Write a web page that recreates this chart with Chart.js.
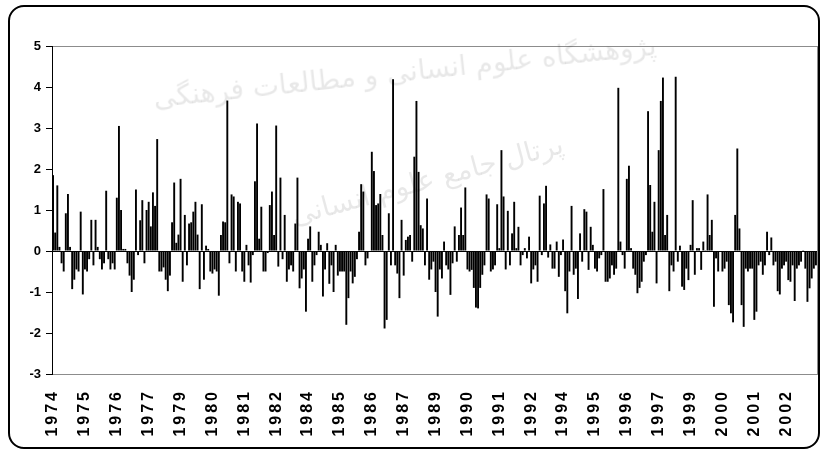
<!DOCTYPE html>
<html>
<head>
<meta charset="utf-8">
<script src="https://cdn.jsdelivr.net/npm/chart.js@4.4.0/dist/chart.umd.min.js"></script>
<style>
    html, body { margin: 0; padding: 0; background: #fff; }
    #contenedor { position: relative; width: 822px; height: 452px; overflow: hidden; }
    #marco { position: absolute; left: 8px; top: 5px; width: 808px; height: 440px; border: 2px solid #000; border-radius: 16px; pointer-events: none; }
    .marca { position: absolute; font-family: "DejaVu Sans", sans-serif; color: rgba(0, 0, 0, 0.09); white-space: nowrap; direction: rtl; pointer-events: none; transform-origin: center; }
    #marca1 { left: 152px; top: 55px; font-size: 28px; transform: rotate(-6deg); }
    #marca2 { left: 287px; top: 163px; font-size: 28px; transform: rotate(-15deg); }
</style>
</head>
<body>
<div id="contenedor">
    <canvas id="grafica" width="822" height="452"></canvas>
    <div class="marca" id="marca1">پژوهشگاه علوم انسانی و مطالعات فرهنگی</div>
    <div class="marca" id="marca2">پرتال جامع علوم انسانی</div>
    <div id="marco"></div>
</div>
<script>
// Años del eje x (cada año tiene 12 meses)
const years = [1974, 1975, 1976, 1977, 1978, 1979, 1980, 1981, 1982, 1983,
               1984, 1985, 1986, 1987, 1988, 1989, 1990, 1991, 1992, 1993,
               1994, 1995, 1996, 1997, 1998, 1999, 2000, 2001, 2002, 2003];

// Se muestra una etiqueta cada 15 meses
const labelStep = 15;

// Valores mensuales
const values1974to1983 = [
    1.85, 0.45, 1.6, 0.1, -0.3, -0.5, 0.92, 1.39, 0.1, -0.93, -0.7, -0.45,
    -0.5, 0.96, -1.06, -0.45, -0.5, -0.2, 0.76, -0.35, 0.76, 0.1, -0.2, -0.45,
    -0.3, 1.47, -0.2, -0.45, -0.3, -0.45, 1.3, 3.05, 1.0, 0.05, 0.05, -0.3,
    -0.6, -1.0, -0.7, 1.5, -0.1, 0.75, 1.24, -0.3, 1.0, 1.2, 0.6, 1.43,
    1.1, 2.73, -0.5, -0.5, -0.4, -0.7, -0.98, -0.6, 0.7, 1.67, 0.2, 0.4,
    1.76, -0.75, 0.88, -0.35, 0.67, 0.7, 0.96, 1.2, 0.4, -0.93, 1.14, -0.7,
    0.13, 0.05, -0.5, -0.55, -0.45, -0.5, -1.09, 0.39, 0.72, 0.7, 3.67, -0.3,
    1.38, 1.33, -0.5, 1.2, 1.16, -0.5, -0.75, 0.15, -0.35, -0.77, -0.1, 1.7,
    3.11, 0.3, 1.08, -0.5, -0.5, -0.05, 1.12, 1.45, 0.39, 3.06, -0.38, 1.79,
    -0.2, 0.88, -0.75, -0.45, -0.35, -0.5, 0.67, 1.79, -0.91, -0.67, -0.45, -1.48
];
const values1984to1993 = [
    0.3, 0.6, -0.75, -0.35, -0.1, 0.47, 0.15, -1.11, -0.45, 0.19, -0.8, -0.35,
    -1.0, 0.15, -0.6, -0.5, -0.5, -0.5, -1.8, -1.15, -0.5, -0.79, -0.63, -0.2,
    0.47, 1.63, 1.45, -0.35, -0.18, -0.02, 2.42, 1.95, 1.12, 1.16, 1.39, 0.39,
    -1.89, -1.68, 0.92, -0.35, 4.19, -0.35, -0.55, -1.15, 0.76, -0.6, 0.27, 0.35,
    0.39, -0.26, 2.3, 3.66, 1.93, 0.63, 0.55, -0.35, 1.28, -0.7, -0.45, -0.26,
    -1.0, -1.6, -0.45, -0.67, 0.23, -0.35, -0.45, -1.07, -0.3, 0.6, -0.26, 0.39,
    1.06, 0.39, 1.55, -0.45, -0.5, -0.46, -0.9, -1.38, -1.4, -0.9, -0.58, -0.35,
    1.38, 1.28, -0.5, -0.45, -0.35, 1.14, 0.07, 2.46, 1.33, -0.45, 0.98, -0.35,
    0.43, 1.2, 0.07, 0.59, -0.35, -0.1, 0.07, -0.18, 0.35, -0.79, -0.45, -0.35,
    -0.75, 1.35, -0.1, 1.16, 1.59, -0.16, 0.16, -0.43, -0.43, 0.23, -0.63, -0.1
];
const values1994to2003 = [
    0.28, -0.98, -1.52, -0.5, 1.1, -0.58, -0.43, -1.17, 0.43, -0.26, 1.02, 0.96,
    -0.46, 0.59, 0.15, -0.43, -0.5, -0.18, -0.1, 1.51, -0.75, -0.75, -0.67, -0.35,
    -0.58, -0.43, 3.98, 0.23, -0.1, -0.43, 1.76, 2.08, 0.07, -0.43, -0.58, -1.03,
    -0.9, -0.75, -0.26, -0.1, 3.41, 1.61, 0.47, 1.2, -0.79, 2.46, 3.66, 4.23,
    0.39, 0.88, -0.98, -0.35, -0.5, 4.25, -0.26, 0.13, -0.87, -0.95, -0.43, -0.71,
    0.15, 1.24, -0.58, 0.07, 0.07, -0.46, 0.23, 0.02, 1.38, 0.39, 0.76, -1.36,
    -0.18, -0.5, -0.02, -0.5, -0.43, -0.26, -1.32, -1.52, -1.74, 0.88, 2.5, 0.55,
    -1.32, -1.85, -0.43, -0.5, -0.43, -0.43, -1.68, -1.48, -0.35, -0.26, -0.58, -0.35,
    0.47, -0.1, 0.33, -0.35, -0.26, -0.98, -1.06, -0.43, -0.35, -0.26, -0.71, -0.75,
    -0.35, -1.22, -0.43, -0.35, -0.26, 0.02, -0.43, -1.24, -0.91, -0.67, -0.43, -0.35
];

// Rango del eje y
const yMin = -3;
const yMax = 5;

// Una categoría por mes, etiquetada con su año
const categories = years.flatMap(y => Array(12).fill(String(y)));
const values = values1974to1983.concat(values1984to1993, values1994to2003);

// Espaciado de letras solo para las etiquetas del eje x (las del eje y se dibujan después de las barras)
const labelSpacing = {
    id: 'labelSpacing',
    beforeDraw(chart) { chart.ctx.letterSpacing = '3px'; },
    beforeDatasetsDraw(chart) { chart.ctx.letterSpacing = '0px'; }
};

Chart.defaults.font.family = '"Liberation Sans", Arial, sans-serif';
Chart.defaults.font.weight = 'bold';
Chart.defaults.color = '#000';

const gris = '#8c8c8c';

new Chart(document.getElementById('grafica').getContext('2d'), {
    type: 'bar',
    data: {
        labels: categories,
        datasets: [{
            data: values,
            yAxisID: 'y',
            backgroundColor: '#000',
            borderWidth: 0,
            barPercentage: 0.9,
            categoryPercentage: 1.0
        }]
    },
    options: {
        responsive: false,
        animation: false,
        devicePixelRatio: 1,
        layout: { padding: { left: 0, top: 46, right: 5, bottom: 0 } },
        plugins: { legend: { display: false }, tooltip: { enabled: false } },
        scales: {
            x: {
                grid: { display: false, drawTicks: false },
                border: { display: true, color: gris, width: 1 },
                ticks: {
                    autoSkip: false,
                    minRotation: 90,
                    maxRotation: 90,
                    padding: 15,
                    font: { size: 16, weight: 'bold' },
                    // null oculta el tick (así no se reserva espacio a la derecha)
                    callback: function (value, index) {
                        return index % labelStep === 0 ? this.getLabelForValue(value) : null;
                    }
                },
                afterFit: s => { s.height = 78; }
            },
            y: {
                min: yMin,
                max: yMax,
                grid: {
                    color: c => c.tick.value === 0 ? '#000' : (c.tick.value === yMax || c.tick.value === yMin ? gris : 'rgba(0,0,0,0)'),
                    tickColor: '#000',
                    tickLength: 6,
                    drawTicks: true
                },
                border: { display: true, color: '#000', width: 1 },
                ticks: { stepSize: 1, padding: 5, z: 1, font: { size: 13, weight: 'bold' } },
                afterFit: s => { s.width = 52; }
            },
            yRight: {
                position: 'right',
                min: yMin,
                max: yMax,
                grid: { display: false, drawTicks: false },
                ticks: { display: false },
                border: { display: true, color: gris, width: 1 },
                afterFit: s => { s.width = 0; }
            }
        }
    },
    plugins: [labelSpacing]
});
</script>
</body>
</html>
